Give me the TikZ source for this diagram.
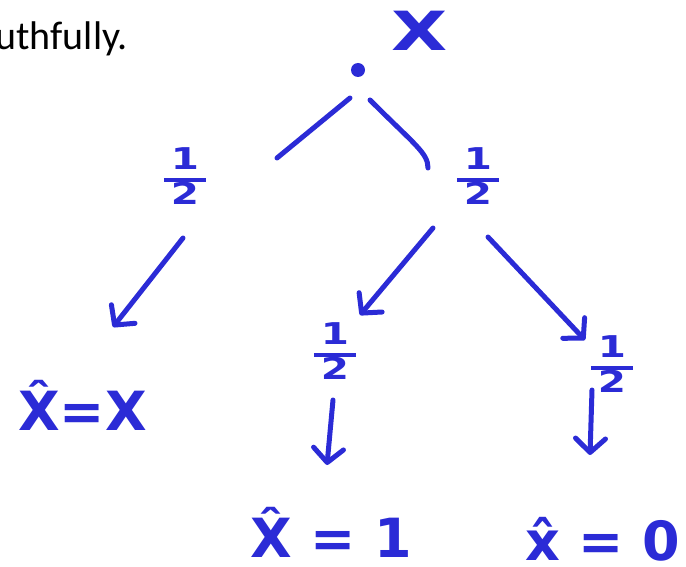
\documentclass[tikz,border=0pt]{standalone}
\usepackage{graphicx}
\usepackage{fontspec}
\setmainfont{DejaVu Sans}
\newfontfamily\carlito{Carlito}
\usetikzlibrary{arrows.meta}
\definecolor{ink}{RGB}{43,43,214}
\newcommand\myhalf{{\fontsize{30}{30}\selectfont\bfseries\setlength{\arrayrulewidth}{4.5pt}\renewcommand\arraystretch{0.95}\begin{tabular}{@{\hspace{7pt}}c@{\hspace{7pt}}}\scalebox{1.35}[1]{1}\\\hline \scalebox{1.35}[1]{2}\end{tabular}}}
\begin{document}
\begin{tikzpicture}[x=1pt,y=1pt,
  stroke/.style={draw=ink, line width=5pt, line cap=round, line join=round},
  arr/.style={stroke, -{Straight Barb[length=14pt,width=30pt,round]}},
  lbl/.style={text=ink, font=\bfseries\fontsize{54}{60}\selectfont, inner sep=0pt},
  fracnode/.style={text=ink, inner sep=0pt}]
\useasboundingbox (0,0) rectangle (686,566);
\node[font=\carlito\fontsize{40}{48}\selectfont, anchor=base east, inner sep=0pt] (t) at (128,516) {uthfully.};
\node[circle, fill=ink, inner sep=0pt, minimum size=14pt] (r) at (358,496) {};
\node[lbl, xscale=1.35] (x0) at (420,535) {X};
\node[fracnode] (hl) at (185,386) {\myhalf};
\node[fracnode] (hr) at (478,386) {\myhalf};
\node[fracnode] (hm) at (335,211) {\myhalf};
\node[fracnode] (hrr) at (612,198) {\myhalf};
\node[lbl, anchor=base west] (lx) at (18,136) {\^X=X};
\node[lbl, anchor=base west] (l1) at (250,9) {\^X = 1};
\node[lbl, anchor=base west] (l0) at (525,6) {\^x = 0};
\draw[stroke] ([shift={(-8,-28)}]r.center) -- ([shift={(92,22)}]hl.center);
\draw[stroke] ([shift={(12,-30)}]r.center) .. controls +(45,-45) and +(0,15) .. ([shift={(-50,12)}]hr.center);
\draw[arr] ([shift={(-2,-58)}]hl.center) -- ([shift={(95,103)}]lx.base west);
\draw[arr] ([shift={(-45,-48)}]hr.center) -- ([shift={(25,40)}]hm.center);
\draw[arr] ([shift={(10,-57)}]hr.center) -- ([shift={(-27,28)}]hrr.center);
\draw[arr] ([shift={(-2,-45)}]hm.center) -- ([shift={(77,92)}]l1.base west);
\draw[arr] ([shift={(-20,-22)}]hrr.center) -- ([shift={(65,105)}]l0.base west);
\end{tikzpicture}
\end{document}
